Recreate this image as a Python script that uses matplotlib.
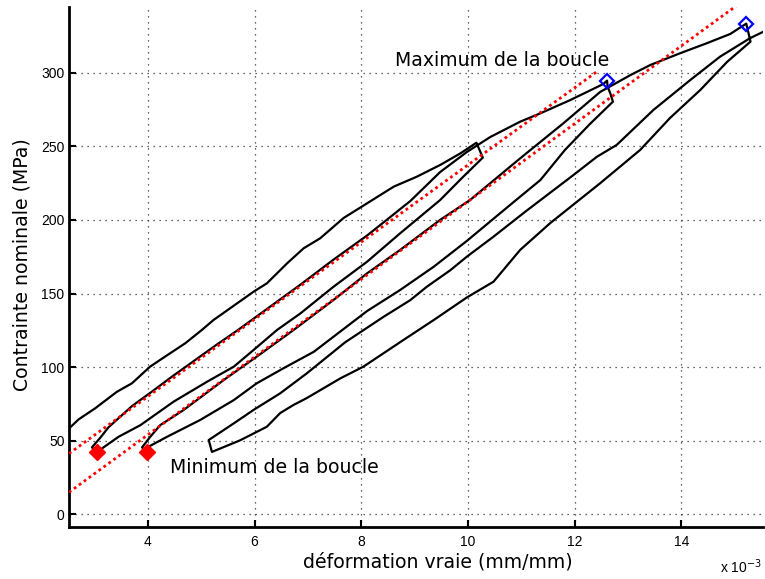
import matplotlib
matplotlib.use("Agg")
import matplotlib.pyplot as plt
import numpy as np

# True strain in units of 1e-3 mm/mm, nominal stress in MPa.
# Branches of the cyclic test, in recording order.
load1_x = [2.52, 2.70, 3.01, 3.42, 3.70, 4.04, 4.32, 4.70, 5.01, 5.23, 5.98, 6.23,
           6.61, 6.92, 7.23, 7.67, 8.11, 8.61, 9.04, 9.48, 9.86, 10.16]
load1_y = [58.3, 64.5, 72.0, 83.3, 89.0, 100.3, 107.1, 116.2, 125.2, 132.0, 151.2, 156.9,
           170.5, 180.7, 187.5, 201.3, 211.3, 222.6, 229.3, 237.3, 245.2, 252.4]

unload1_x = [10.28, 9.89, 9.48, 8.73, 8.11, 7.48, 6.86, 6.42, 5.98, 5.61, 5.11, 4.48,
             3.86, 3.45, 3.14, 3.05, 2.95]
unload1_y = [242.3, 228.5, 213.5, 190.9, 171.6, 154.6, 136.5, 125.2, 111.6, 100.3, 90.1, 76.5,
             60.6, 52.7, 44.8, 42.3, 45.5]

reload1_x = [3.11, 3.26, 3.70, 4.08, 4.45, 4.95, 5.26, 5.70, 6.29, 6.86, 7.48, 8.11,
             8.92, 9.48, 9.98, 10.42, 10.98, 11.36, 11.92, 12.54, 12.61]
reload1_y = [52.2, 59.1, 73.5, 83.5, 93.5, 106.5, 114.5, 125.5, 141.0, 156.0, 173.0, 189.4,
             212.8, 232.5, 246.1, 256.3, 266.7, 272.4, 281.4, 292.3, 294.6]

unload2_x = [12.62, 12.67, 12.72, 12.29, 11.82, 11.36, 10.79, 9.98, 9.36, 8.73, 8.11, 7.47,
             7.11, 6.54, 6.04, 5.61, 4.98, 4.36, 4.01, 3.98, 3.89]
unload2_y = [290.5, 286.0, 280.3, 265.2, 247.5, 227.1, 210.1, 185.7, 168.2, 152.4, 138.1, 120.4,
             110.4, 99.2, 89.0, 77.6, 64.1, 52.7, 45.9, 42.1, 45.5]

reload2_x = [4.04, 4.23, 4.67, 5.42, 6.04, 6.73, 7.48, 8.11, 8.73, 9.48, 10.04, 10.98,
             11.79, 12.48, 13.05, 13.42, 13.98, 14.48, 14.92, 15.22]
reload2_y = [52.5, 60.6, 70.9, 91.2, 107.1, 125.2, 145.6, 163.7, 179.6, 200.0, 213.5, 241.8,
             265.6, 286.9, 298.4, 305.2, 313.2, 320.0, 326.3, 333.3]

unload3_x = [15.30, 14.86, 14.36, 13.79, 13.23, 12.48, 11.54, 10.98, 10.48, 9.98, 9.36, 8.79,
             8.04, 7.61, 6.98, 6.73, 6.48, 6.23, 5.73, 5.20]
unload3_y = [321.1, 307.3, 288.3, 269.2, 247.5, 224.9, 197.7, 179.6, 158.0, 147.3, 132.0, 118.4,
             100.3, 92.4, 79.0, 74.3, 68.8, 59.5, 50.3, 42.4]

reload3_x = [5.14, 5.61, 5.98, 6.48, 6.98, 7.70, 8.42, 8.92, 9.23, 9.67, 9.98, 10.48,
             11.07, 11.98, 12.42, 12.79, 13.48, 14.17, 14.73, 15.29, 15.54]
reload3_y = [50.5, 61.8, 70.9, 82.2, 95.8, 116.9, 134.2, 145.5, 154.6, 165.8, 175.0, 188.6,
             205.4, 230.5, 242.9, 250.9, 274.7, 295.0, 310.9, 323.4, 327.8]

# Loop extrema
loop_min_x = [3.05, 3.98]
loop_min_y = [42.3, 42.1]
loop_max_x = [12.61, 15.22]
loop_max_y = [294.6, 333.3]

# Linear fits of the reloading branches
fit1_x = [2.52, 12.45]
fit1_y = [41.3, 301.5]
fit2_x = [2.52, 15.20]
fit2_y = [15.0, 349.8]

x_ticks = [4, 6, 8, 10, 12, 14]
y_ticks = [0, 50, 100, 150, 200, 250, 300]

strain = np.concatenate([load1_x, unload1_x, reload1_x, unload2_x, reload2_x, unload3_x, reload3_x])
stress = np.concatenate([load1_y, unload1_y, reload1_y, unload2_y, reload2_y, unload3_y, reload3_y])

plt.rcParams['font.family'] = ['DejaVu Sans']

fig = plt.figure(figsize=(7.65, 5.79), dpi=100)
ax = fig.add_axes([0.0902, 0.0898, 0.9076, 0.8981])

ax.plot(strain, stress, color='black', lw=1.6, solid_joinstyle='round', zorder=3)
ax.plot(fit1_x, fit1_y, color='red', lw=2.0, linestyle=(0, (1, 1.2)), zorder=4)
ax.plot(fit2_x, fit2_y, color='red', lw=2.0, linestyle=(0, (1, 1.2)), zorder=4)
ax.plot(loop_min_x, loop_min_y, linestyle='none', marker='D', ms=8.5, color='red',
        markeredgecolor='red', zorder=5)
ax.plot(loop_max_x, loop_max_y, linestyle='none', marker='D', ms=7, markerfacecolor='none',
        markeredgecolor='blue', markeredgewidth=1.6, zorder=5)

ax.text(8.63, 308.5, 'Maximum de la boucle', fontsize=13.6, va='center', ha='left')
ax.text(4.42, 32.0, 'Minimum de la boucle', fontsize=13.6, va='center', ha='left')

ax.set_xlim(2.52, 15.54)
ax.set_ylim(-8.6, 344.6)
ax.set_xticks(x_ticks)
ax.set_yticks(y_ticks)
ax.set_xticklabels([str(v) for v in x_ticks], family='Liberation Sans', fontsize=10)
ax.set_yticklabels([str(v) for v in y_ticks], family='Liberation Sans', fontsize=10)
ax.tick_params(direction='in', length=5, width=1.5)
ax.tick_params(axis='x', pad=5.5)
ax.tick_params(axis='y', pad=3.2)

for side in ('top', 'right'):
    ax.spines[side].set_visible(False)
for side in ('left', 'bottom'):
    ax.spines[side].set_linewidth(2.0)

ax.grid(True, color='0.2', linestyle=(0, (1, 3.8)), linewidth=0.9)
ax.set_axisbelow(True)

fig.text(438 / 765, 1 - 562 / 579, 'déformation vraie (mm/mm)', fontsize=13.6,
         ha='center', va='center')
fig.text(22 / 765, 1 - 265 / 579, 'Contrainte nominale (MPa)', fontsize=13.6,
         ha='center', va='center', rotation=90)
fig.text(741 / 765, 1 - 567 / 579, r'x 10$^{-3}$', fontsize=10, family='Liberation Sans',
         ha='center', va='center')

fig.savefig('out.png', dpi=100)
